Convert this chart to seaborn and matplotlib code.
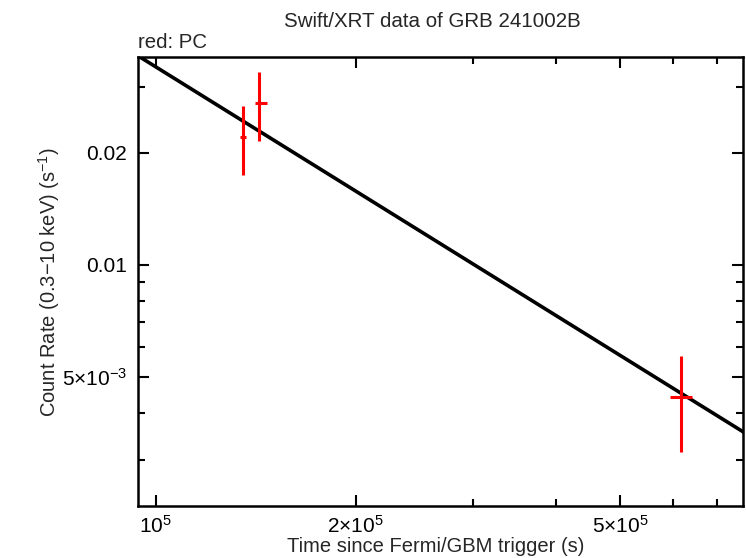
import numpy as np
import matplotlib
matplotlib.use("Agg")
import matplotlib.pyplot as plt
import matplotlib.ticker as mticker
import pandas as pd
import seaborn as sns

# PC mode points (time since trigger, s) with asymmetric errors
t_pc = [1.355e5, 1.43e5, 6.18e5]
t_lo = [1.342e5, 1.41e5, 5.95e5]
t_hi = [1.37e5, 1.472e5, 6.41e5]
rate_pc = [0.0220, 0.02725, 4.41e-3]
rate_lo = [0.01746, 0.02145, 3.15e-3]
rate_hi = [0.0266, 0.0330, 5.69e-3]

# power-law fit: rate = norm * (t / 1e5) ** -index
fit_norm = 0.0340
fit_index = 1.108
fit_t = [8.5e4, 9e5]

sns.set_theme(style="ticks")
plt.rcParams['font.family'] = ['Liberation Sans', 'DejaVu Sans']
plt.rcParams['mathtext.fontset'] = 'custom'
plt.rcParams['mathtext.rm'] = 'Liberation Sans'
plt.rcParams['mathtext.it'] = 'Liberation Sans'

fig = plt.figure(figsize=(7.46, 5.58), dpi=100)
ax = fig.add_axes([0.185, 0.093, 0.811, 0.804])

fit_df = pd.DataFrame({"t": fit_t})
fit_df["rate"] = fit_norm * (fit_df["t"] / 1e5) ** (-fit_index)
sns.lineplot(data=fit_df, x="t", y="rate", ax=ax, color="black", lw=2.6)

t = np.array(t_pc)
r = np.array(rate_pc)
ax.errorbar(t, r,
            xerr=[t - np.array(t_lo), np.array(t_hi) - t],
            yerr=[r - np.array(rate_lo), np.array(rate_hi) - r],
            fmt="none", ecolor="red", elinewidth=2.2, capsize=0)

ax.set_xscale("log")
ax.set_yscale("log")
ax.set_xlim(9.41e4, 7.66e5)
ax.set_ylim(2.25e-3, 0.0360)

ax.xaxis.set_major_locator(mticker.FixedLocator([1e5, 2e5, 5e5]))
ax.xaxis.set_minor_locator(mticker.FixedLocator([3e5, 4e5, 6e5, 7e5]))
ax.xaxis.set_major_formatter(mticker.FixedFormatter(
    ["10$^{5}$", "2×10$^{5}$", "5×10$^{5}$"]))
ax.xaxis.set_minor_formatter(mticker.NullFormatter())

ax.yaxis.set_major_locator(mticker.FixedLocator([5e-3, 0.01, 0.02]))
ax.yaxis.set_minor_locator(mticker.FixedLocator(
    [3e-3, 4e-3, 6e-3, 7e-3, 8e-3, 9e-3, 0.03]))
ax.yaxis.set_major_formatter(mticker.FixedFormatter(
    ["5×10$^{-3}$", "0.01", "0.02"]))
ax.yaxis.set_minor_formatter(mticker.NullFormatter())

ax.tick_params(which="both", direction="in", top=True, right=True,
               width=1.5, colors="black", labelsize=15, pad=6)
ax.tick_params(axis="y", pad=8)
ax.tick_params(which="major", length=8)
ax.tick_params(which="minor", length=5)
for s in ax.spines.values():
    s.set_linewidth(1.8)
    s.set_color("black")

ax.set_xlabel("Time since Fermi/GBM trigger (s)", fontsize=14.5)
ax.xaxis.set_label_coords(0.492, -0.069)
ax.set_ylabel(r"Count Rate (0.3$-$10 keV) (s$^{-1}$)", fontsize=14.5)
ax.yaxis.set_label_coords(-0.126, 0.5)
fig.text(0.58, 0.962, "Swift/XRT data of GRB 241002B", ha="center",
         va="center", fontsize=14.8)
ax.text(0.0, 1.012, "red: PC", transform=ax.transAxes, ha="left",
        va="bottom", fontsize=14.7)

fig.savefig("out.png", dpi=100)
